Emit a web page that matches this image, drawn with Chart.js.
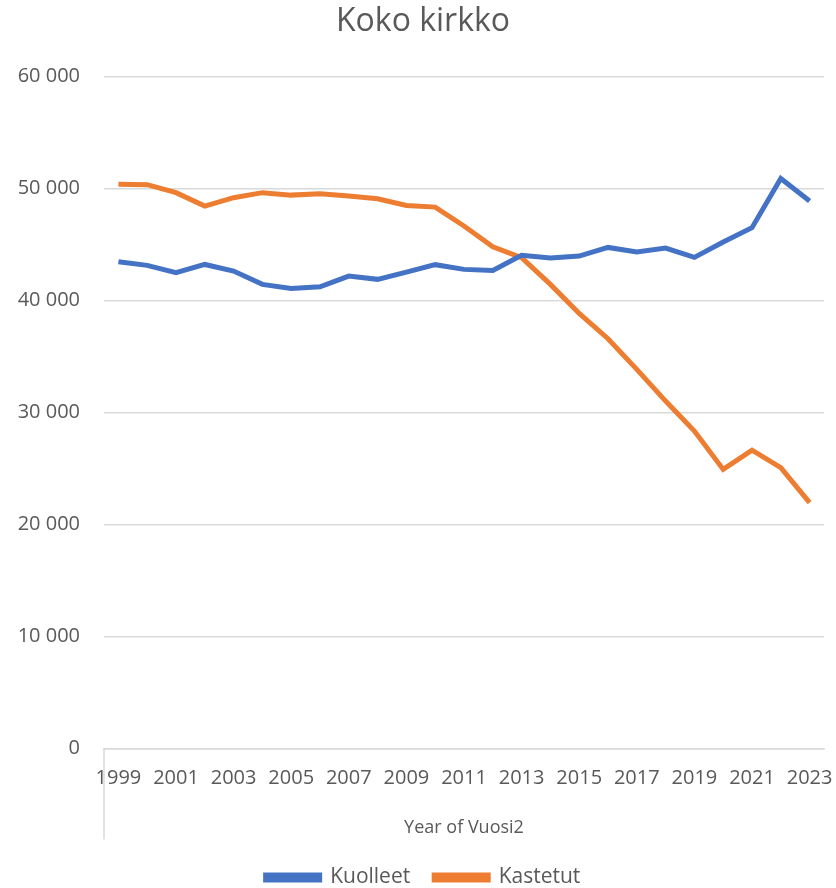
<html>
<head>
    <style>
        body { margin: 0; background: #fff; }
    </style>
    <script src="https://cdn.jsdelivr.net/npm/chart.js@4.4.0/dist/chart.umd.min.js"></script>
</head>
<body>
<canvas id="myChart" width="836" height="888"></canvas>
<script>
    // Years on the category axis
    var years = ["1999", "2000", "2001", "2002", "2003", "2004", "2005", "2006", "2007", "2008",
        "2009", "2010", "2011", "2012", "2013", "2014", "2015", "2016", "2017", "2018",
        "2019", "2020", "2021", "2022", "2023"];

    // Kuolleet (deaths)
    var kuolleet = [43450, 43130, 42470, 43210, 42620, 41430, 41070, 41220, 42170, 41880,
        42530, 43190, 42770, 42680, 44020, 43780, 43960, 44730, 44320, 44670,
        43840, 45210, 46490, 50890, 48870];

    // Kastetut (baptised)
    var kastetut = [50360, 50330, 49620, 48420, 49170, 49620, 49400, 49530, 49320, 49080,
        48480, 48330, 46640, 44790, 43810, 41430, 38840, 36580, 33840, 31010,
        28330, 24910, 26630, 25060, 21940];

    var yTicks = [0, 10000, 20000, 30000, 40000, 50000, 60000];

    var txt = "#595959";
    var fontName = "'Open Sans', 'Noto Sans', sans-serif";

    function fmt(n) {
        return n.toString().replace(/\B(?=(\d{3})+(?!\d))/g, " ");
    }

    // the little pivot field box line below the axis
    var fieldLine = {
        id: "fieldLine",
        afterDraw: function(chart) {
            var ctx = chart.ctx;
            var a = chart.chartArea;
            ctx.save();
            ctx.strokeStyle = "#d9d9d9";
            ctx.lineWidth = 1.5;
            ctx.beginPath();
            ctx.moveTo(a.left, a.bottom);
            ctx.lineTo(a.left, a.bottom + 91);
            ctx.stroke();
            ctx.restore();
        }
    };

    var ctx = document.getElementById("myChart").getContext("2d");
    var chart = new Chart(ctx, {
        type: "line",
        data: {
            labels: years,
            datasets: [{
                label: "Kuolleet",
                data: kuolleet,
                borderColor: "#4472C4",
                backgroundColor: "#4472C4",
                borderWidth: 5,
                pointRadius: 0,
                tension: 0
            }, {
                label: "Kastetut",
                data: kastetut,
                borderColor: "#ED7D31",
                backgroundColor: "#ED7D31",
                borderWidth: 5,
                pointRadius: 0,
                tension: 0
            }]
        },
        options: {
            responsive: false,
            animation: false,
            layout: { padding: { left: 10, right: 0, top: 0, bottom: -10 } },
            plugins: {
                title: {
                    display: true,
                    text: "Koko kirkko",
                    color: txt,
                    font: { family: fontName, size: 32, weight: "normal" },
                    padding: { top: 3, bottom: 35 }
                },
                legend: {
                    position: "bottom",
                    labels: {
                        color: txt,
                        font: { family: fontName, size: 21 },
                        boxWidth: 54,
                        boxHeight: 5,
                        padding: 24
                    }
                },
                tooltip: { enabled: false }
            },
            scales: {
                x: {
                    offset: true,
                    afterFit: function(scale) { scale.paddingRight = 12; },
                    grid: { display: false, drawTicks: false },
                    border: { display: true, color: "#d9d9d9", width: 1.5 },
                    ticks: {
                        color: txt,
                        font: { family: fontName, size: 20 },
                        autoSkip: false,
                        maxRotation: 0,
                        padding: 18,
                        callback: function(v, i) { return i % 2 == 0 ? years[i] : ""; }
                    },
                    title: {
                        display: true,
                        text: "Year of Vuosi2",
                        color: txt,
                        font: { family: fontName, size: 18 },
                        padding: { top: 9, bottom: 4 }
                    }
                },
                y: {
                    min: 0,
                    max: 60000,
                    afterBuildTicks: function(scale) {
                        scale.ticks = yTicks.map(function(v) { return { value: v }; });
                    },
                    afterFit: function(scale) { scale.width = 94; },
                    grid: { color: "#d9d9d9", lineWidth: 1.5, drawTicks: false },
                    border: { display: false },
                    ticks: {
                        color: txt,
                        font: { family: fontName, size: 20 },
                        padding: 24,
                        callback: function(v) { return fmt(v); }
                    }
                }
            }
        },
        plugins: [fieldLine]
    });
</script>
</body>
</html>
